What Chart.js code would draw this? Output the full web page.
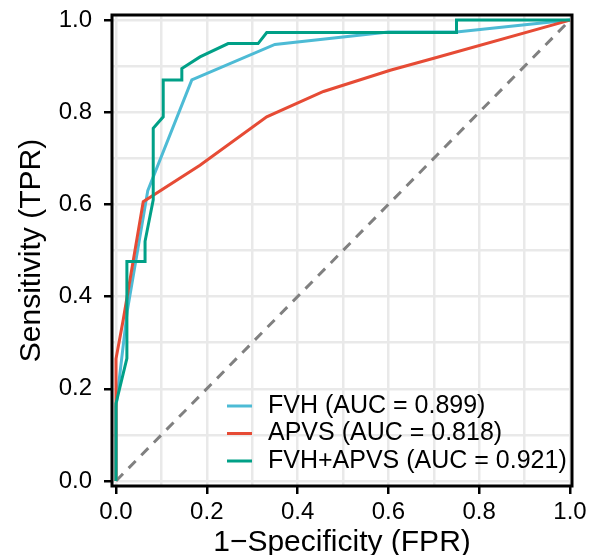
<!DOCTYPE html>
<html>
<head>
<meta charset="utf-8">
<script src="https://cdn.jsdelivr.net/npm/chart.js@4/dist/chart.umd.min.js"></script>
<style>
  html, body { margin: 0; padding: 0; background: #fff; }
  #wrap { width: 596px; height: 555px; }
</style>
</head>
<body>
<div id="wrap"><canvas id="roc"></canvas></div>
<script>
// ROC curve points
const fvhFpr = [0, 0, 0.025, 0.07, 0.167, 0.35, 0.6, 0.75, 1];
const fvhTpr = [0, 0.16, 0.37, 0.63, 0.87, 0.947, 0.974, 0.974, 1];

const apvsFpr = [0, 0, 0.016, 0.06, 0.185, 0.332, 0.457, 0.604, 0.7, 1];
const apvsTpr = [0, 0.265, 0.35, 0.606, 0.685, 0.79, 0.845, 0.891, 0.917, 1];

const comboFpr = [0, 0, 0.024, 0.024, 0.064, 0.064, 0.082, 0.082, 0.104, 0.104, 0.145, 0.145, 0.185, 0.247, 0.313, 0.332, 0.75, 0.75, 1];
const comboTpr = [0, 0.168, 0.266, 0.476, 0.476, 0.52, 0.61, 0.765, 0.79, 0.87, 0.87, 0.895, 0.92, 0.949, 0.949, 0.973, 0.973, 1, 1];

const seriesNames = ["FVH", "APVS", "FVH+APVS"];
const aucValues = [0.899, 0.818, 0.921];
const seriesColors = ["#4DBBD5", "#E64B35", "#00A087"];

const refLine = [0, 1];
const tickValues = [0, 0.1, 0.2, 0.3, 0.4, 0.5, 0.6, 0.7, 0.8, 0.9, 1.0];

const FONT = "'Liberation Sans', Arial, sans-serif";

function toPoints(xs, ys) {
  return xs.map((x, i) => ({ x: x, y: ys[i] }));
}

function isMajor(v) {
  return Math.round(v * 10) % 2 === 0;
}

// legend drawn inside the panel, bottom right, no box
const insideLegend = {
  id: "insideLegend",
  afterDatasetsDraw(chart) {
    const ctx = chart.ctx;
    const area = chart.chartArea;
    ctx.save();
    ctx.font = "25px " + FONT;
    ctx.textBaseline = "middle";
    ctx.textAlign = "left";
    for (let i = 0; i < seriesNames.length; i++) {
      let y = area.bottom - 80 + i * 27.5;
      ctx.strokeStyle = seriesColors[i];
      ctx.lineWidth = 3;
      ctx.beginPath();
      ctx.moveTo(area.left + 115, y);
      ctx.lineTo(area.left + 140, y);
      ctx.stroke();
      ctx.fillStyle = "#000";
      ctx.fillText(seriesNames[i] + " (AUC = " + aucValues[i].toFixed(3) + ")", area.left + 156, y);
    }
    ctx.restore();
  }
};

// black panel border on all four sides
const panelBox = {
  id: "panelBox",
  afterDatasetsDraw(chart) {
    const ctx = chart.ctx;
    const a = chart.chartArea;
    ctx.save();
    ctx.strokeStyle = "#000";
    ctx.lineWidth = 3;
    ctx.strokeRect(a.left, a.top, a.right - a.left, a.bottom - a.top);
    ctx.restore();
  }
};

const axisCommon = {
  type: "linear",
  afterBuildTicks: (scale) => {
    scale.ticks = tickValues.map(v => ({ value: v }));
  },
  grid: {
    color: "#e9e9e9",
    lineWidth: 2.5,
    drawTicks: true,
    tickLength: 8,
    tickWidth: 2.5,
    tickColor: (ctx) => (ctx.tick && isMajor(ctx.tick.value)) ? "#000" : "rgba(0,0,0,0)"
  },
  border: { display: false },
  ticks: {
    autoSkip: false,
    maxRotation: 0,
    color: "#000",
    font: { family: FONT, size: 24 },
    callback: (v) => isMajor(v) ? Number(v).toFixed(1) : ""
  }
};

new Chart(document.getElementById("roc"), {
  type: "line",
  data: {
    datasets: [
      {
        label: seriesNames[2],
        data: toPoints(comboFpr, comboTpr),
        borderColor: seriesColors[2],
        borderWidth: 3,
        pointRadius: 0,
        tension: 0,
        order: 0
      },
      {
        label: seriesNames[1],
        data: toPoints(apvsFpr, apvsTpr),
        borderColor: seriesColors[1],
        borderWidth: 3,
        pointRadius: 0,
        tension: 0,
        order: 1
      },
      {
        label: seriesNames[0],
        data: toPoints(fvhFpr, fvhTpr),
        borderColor: seriesColors[0],
        borderWidth: 3,
        pointRadius: 0,
        tension: 0,
        order: 2
      },
      {
        label: "reference",
        data: toPoints(refLine, refLine),
        borderColor: "#808080",
        borderWidth: 3,
        borderDash: [10, 8],
        pointRadius: 0,
        tension: 0,
        order: 3
      }
    ]
  },
  options: {
    responsive: true,
    maintainAspectRatio: false,
    animation: false,
    layout: { padding: { top: 15, right: 24, left: 0, bottom: 0 } },
    plugins: {
      legend: { display: false },
      tooltip: { enabled: false }
    },
    scales: {
      x: {
        ...axisCommon,
        min: -0.0088,
        max: 1.0044,
        afterFit: (scale) => {
          scale.height = 69;
          scale.paddingLeft = 0;
          scale.paddingRight = 0;
        },
        ticks: { ...axisCommon.ticks, padding: 4 },
        title: {
          display: true,
          text: "1\u2212Specificity (FPR)",
          color: "#000",
          font: { family: FONT, size: 30, lineHeight: 0.8 },
          padding: { top: 0, bottom: 0 }
        }
      },
      y: {
        ...axisCommon,
        min: -0.011,
        max: 1.011,
        afterFit: (scale) => {
          scale.width = 112;
          scale.paddingTop = 0;
          scale.paddingBottom = 0;
        },
        ticks: { ...axisCommon.ticks, padding: 12 },
        title: {
          display: true,
          text: "Sensitivity (TPR)",
          color: "#000",
          font: { family: FONT, size: 30, lineHeight: 1.2 },
          padding: { top: 14, bottom: 0 }
        }
      }
    }
  },
  plugins: [insideLegend, panelBox]
});
</script>
</body>
</html>
